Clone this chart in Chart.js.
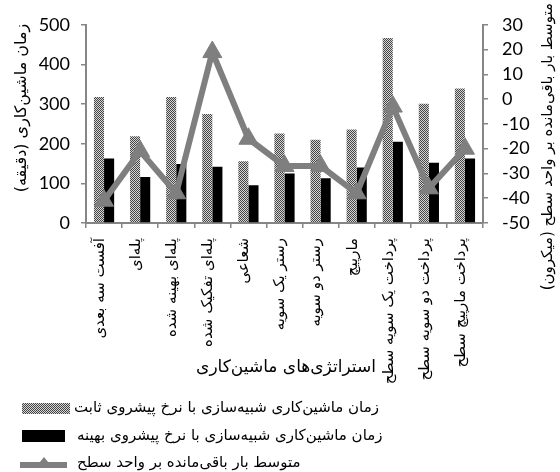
<!DOCTYPE html>
<html>
<head>
<meta charset="utf-8">
<script src="https://cdn.jsdelivr.net/npm/chart.js@4.4.1/dist/chart.umd.min.js"></script>
<style>
html, body { margin: 0; padding: 0; background: #fff; }
#wrap { width: 560px; height: 472px; }
</style>
</head>
<body>
<div id="wrap"><canvas id="strategyChart" width="560" height="472"></canvas></div>
<script>
// Machining strategies: simulated time vs. remaining stock
const strategies = [
    'آفست سه بعدی',
    'پله‌ای',
    'پله‌ای بهینه شده',
    'پله‌ای تفکیک شده',
    'شعاعی',
    'رستر یک سویه',
    'رستر دو سویه',
    'مارپیچ',
    'پرداخت یک سویه سطح',
    'پرداخت دو سویه سطح',
    'پرداخت مارپیچ سطح'
];
const fixedFeedTime = [318, 219, 318, 275, 156, 226, 210, 236, 467, 301, 339];
const optimizedFeedTime = [163, 116, 149, 142, 95, 125, 113, 140, 205, 152, 163];
const remainingStock = [-41, -21, -38, 19, -16, -27, -27, -38, -3, -36, -20];

const seriesNames = [
    'زمان ماشین‌کاری شبیه‌سازی با نرخ پیشروی ثابت',
    'زمان ماشین‌کاری شبیه‌سازی با نرخ پیشروی بهینه',
    'متوسط بار باقی‌مانده بر واحد سطح'
];
const leftTitle = 'زمان ماشین‌کاری (دقیقه)';
const rightTitle = 'متوسط بار باقی‌مانده بر واحد سطح (میکرون)';
const xTitle = 'استراتژی‌های ماشین‌کاری';

const faFont = "'DejaVu Sans', sans-serif";
const numFont = "Lato, sans-serif";
const axisColor = '#868686';
const lineColor = '#7f7f7f';

function makeDotPattern(ctx) {
    const c = document.createElement('canvas');
    c.width = 2;
    c.height = 2;
    const g = c.getContext('2d');
    g.fillStyle = '#d6d6d6';
    g.fillRect(0, 0, 2, 2);
    g.fillStyle = '#454545';
    g.fillRect(0, 0, 1, 1);
    g.fillRect(1, 1, 1, 1);
    return ctx.createPattern(c, 'repeat');
}

// titles + legend drawn by hand (Excel-like placement)
const extrasPlugin = {
    id: 'extras',
    afterDraw(chart) {
        const ctx = chart.ctx;
        const ds = chart.data.datasets;
        ctx.save();
        ctx.fillStyle = '#000';
        ctx.direction = 'rtl';
        ctx.textBaseline = 'middle';

        // left axis title
        ctx.font = '16px ' + faFont;
        ctx.save();
        ctx.translate(22, 108);
        ctx.rotate(-Math.PI / 2);
        ctx.textAlign = 'center';
        ctx.fillText(leftTitle, 0, 0);
        ctx.restore();

        // right axis title
        ctx.font = '15px ' + faFont;
        ctx.save();
        ctx.translate(548, 3);
        ctx.rotate(-Math.PI / 2);
        ctx.textAlign = 'right';
        ctx.fillText(rightTitle, 0, 0);
        ctx.restore();

        // x axis title
        ctx.font = '17px ' + faFont;
        ctx.textAlign = 'center';
        ctx.fillText(xTitle, 286, 368);

        // legend
        ctx.font = '15px ' + faFont;
        const rows = [408, 436, 463];
        ctx.textAlign = 'left';
        ctx.fillStyle = ds[0].backgroundColor;
        ctx.fillRect(22, rows[0] - 5, 48, 11);
        ctx.fillStyle = ds[1].backgroundColor;
        ctx.fillRect(22, rows[1] - 6, 43, 12);

        ctx.strokeStyle = lineColor;
        ctx.lineWidth = 6;
        ctx.beginPath();
        ctx.moveTo(20, rows[2] + 2);
        ctx.lineTo(67, rows[2] + 2);
        ctx.stroke();
        ctx.fillStyle = lineColor;
        ctx.beginPath();
        ctx.moveTo(44, rows[2] - 6);
        ctx.lineTo(53, rows[2] + 5);
        ctx.lineTo(35, rows[2] + 5);
        ctx.closePath();
        ctx.fill();

        ctx.fillStyle = '#000';
        ctx.fillText(seriesNames[0], 74, rows[0]);
        ctx.fillText(seriesNames[1], 77, rows[1]);
        ctx.fillText(seriesNames[2], 77, rows[2]);
        ctx.restore();
    }
};

document.addEventListener('DOMContentLoaded', function() {
    const canvas = document.getElementById('strategyChart');
    const ctx = canvas.getContext('2d');

    new Chart(canvas, {
        type: 'bar',
        data: {
            labels: strategies,
            datasets: [
                {
                    label: seriesNames[0],
                    data: fixedFeedTime,
                    backgroundColor: makeDotPattern(ctx),
                    borderWidth: 0,
                    yAxisID: 'y',
                    order: 2
                },
                {
                    label: seriesNames[1],
                    data: optimizedFeedTime,
                    backgroundColor: '#000000',
                    borderWidth: 0,
                    yAxisID: 'y',
                    order: 2
                },
                {
                    type: 'line',
                    label: seriesNames[2],
                    data: remainingStock,
                    borderColor: lineColor,
                    borderWidth: 6,
                    pointStyle: 'triangle',
                    pointRadius: 11,
                    pointBackgroundColor: lineColor,
                    pointBorderColor: lineColor,
                    pointBorderWidth: 1,
                    tension: 0,
                    yAxisID: 'y1',
                    order: 0
                }
            ]
        },
        options: {
            responsive: false,
            animation: false,
            layout: { padding: { top: 22, left: 0, right: 0, bottom: 0 } },
            datasets: {
                bar: { categoryPercentage: 0.56, barPercentage: 1.0 }
            },
            plugins: {
                legend: { display: false },
                tooltip: { enabled: false }
            },
            scales: {
                x: {
                    grid: {
                        drawOnChartArea: false,
                        color: axisColor,
                        lineWidth: 1.5,
                        tickLength: 5
                    },
                    border: { color: axisColor, width: 2 },
                    ticks: {
                        autoSkip: false,
                        minRotation: 90,
                        maxRotation: 90,
                        padding: 10,
                        labelOffset: -4,
                        color: '#000',
                        font: { size: 15, family: faFont }
                    },
                    afterFit: function(scale) { scale.height = 249; }
                },
                y: {
                    position: 'left',
                    min: 0,
                    max: 500,
                    ticks: {
                        autoSkip: false,
                        stepSize: 100,
                        padding: 11,
                        color: '#000',
                        font: { size: 18, family: numFont }
                    },
                    grid: {
                        drawOnChartArea: false,
                        color: axisColor,
                        lineWidth: 1.5,
                        tickLength: 5
                    },
                    border: { color: axisColor, width: 2 },
                    afterFit: function(scale) { scale.width = 86; }
                },
                y1: {
                    position: 'right',
                    min: -50,
                    max: 30,
                    ticks: {
                        autoSkip: false,
                        stepSize: 10,
                        padding: 14,
                        color: '#000',
                        font: { size: 18, family: numFont }
                    },
                    grid: {
                        drawOnChartArea: false,
                        color: axisColor,
                        lineWidth: 1.5,
                        tickLength: 5
                    },
                    border: { color: axisColor, width: 2 },
                    afterFit: function(scale) { scale.width = 77; }
                }
            }
        },
        plugins: [extrasPlugin]
    });
});
</script>
</body>
</html>
